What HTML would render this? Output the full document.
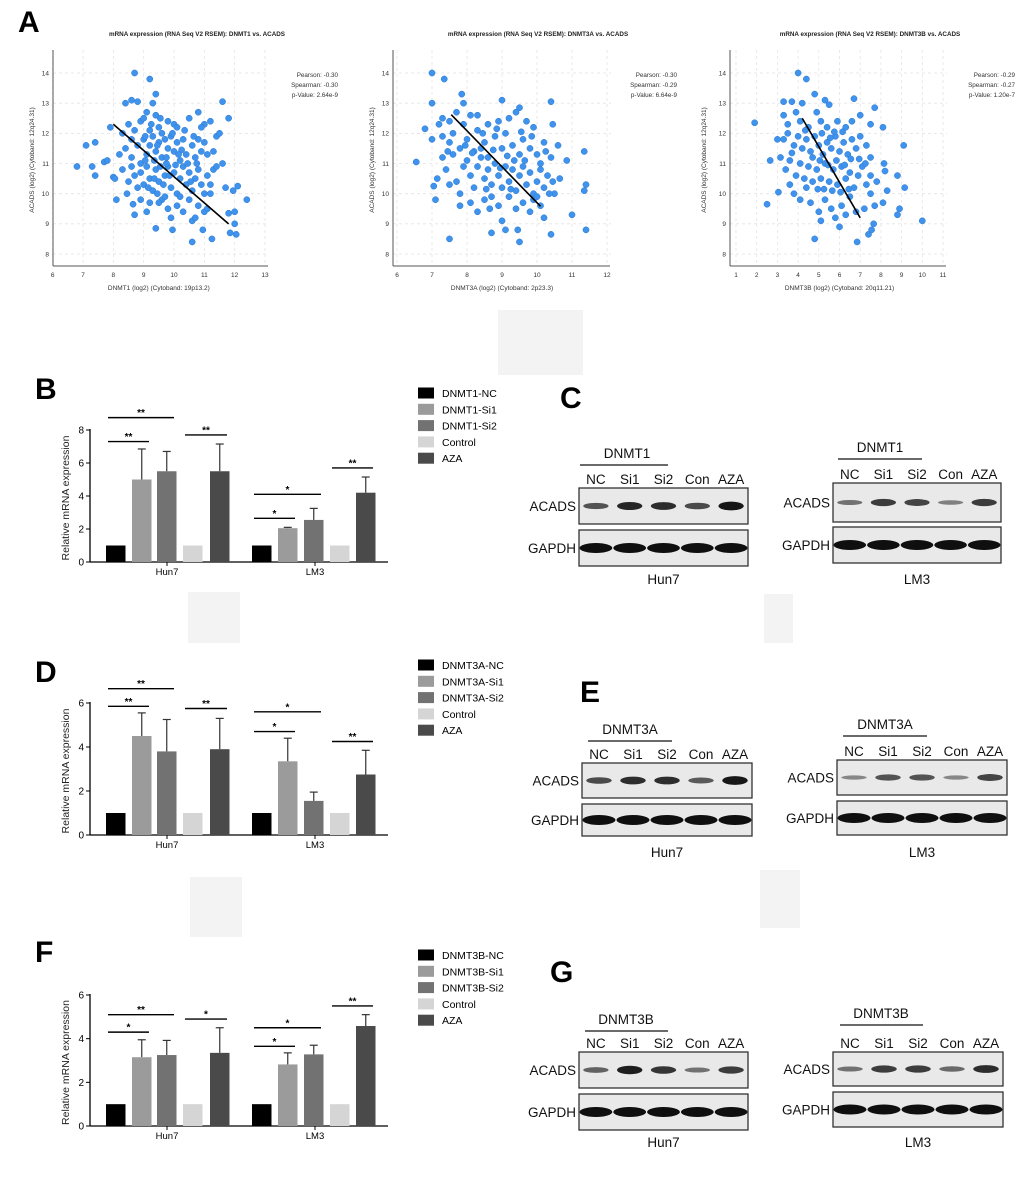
<!DOCTYPE html>
<html><head><meta charset="utf-8"><style>
body{margin:0;background:#fff}
svg{display:block;font-family:"Liberation Sans",sans-serif}
</style></head><body>
<svg id="fig" width="1020" height="1198" viewBox="0 0 1020 1198" xmlns="http://www.w3.org/2000/svg">
<rect width="1020" height="1198" fill="#fff"/>
<rect x="498" y="310" width="85" height="65" fill="#f3f3f3"/>
<rect x="188" y="592" width="52" height="51" fill="#f3f3f3"/>
<rect x="764" y="594" width="29" height="49" fill="#f3f3f3"/>
<rect x="190" y="877" width="52" height="60" fill="#f3f3f3"/>
<rect x="760" y="870" width="40" height="58" fill="#f3f3f3"/>
<text x="18" y="32" font-size="30" font-weight="bold">A</text>
<text x="35" y="399" font-size="30" font-weight="bold">B</text>
<text x="560" y="408" font-size="30" font-weight="bold">C</text>
<text x="35" y="682" font-size="30" font-weight="bold">D</text>
<text x="580" y="702" font-size="30" font-weight="bold">E</text>
<text x="35" y="962" font-size="30" font-weight="bold">F</text>
<text x="550" y="982" font-size="30" font-weight="bold">G</text>
</svg>
<script>
// ---------- scatter data ----------
const s1Points = "8.7,14.0 9.2,13.8 9.4,13.3 8.4,13.0 8.6,13.1 8.8,13.05 11.6,13.05 11.8,12.5 6.8,10.9 7.1,11.6 7.3,10.9 7.4,11.7 7.4,10.6 7.7,11.05 7.8,11.1 7.9,12.2 8.0,10.55 8.05,10.5 8.1,9.8 12.4,9.8 12.1,10.25 11.95,10.1 11.8,9.35 11.85,8.7 12.05,8.65 12.0,9.0 12.0,9.4 11.25,8.5 10.6,8.4 9.95,8.8 9.4,8.85 8.7,9.3 8.65,9.65 9.1,9.4 10.95,8.8 11.7,10.2 11.6,11.0 8.3,12.0 8.5,12.3 8.6,11.8 8.9,12.4 9.0,12.5 9.1,12.7 9.2,12.1 9.3,13.0 9.4,12.6 9.5,12.2 9.6,12.0 9.8,12.4 10.0,12.3 10.1,12.2 10.5,12.5 10.8,12.7 11.0,12.3 11.2,12.4 10.9,12.2 8.4,11.5 8.6,11.2 8.8,11.6 8.9,11.0 9.0,11.8 9.1,11.3 9.2,11.6 9.3,11.9 9.4,11.4 9.5,11.7 9.6,11.2 9.7,11.8 9.8,11.5 9.9,11.9 10.0,11.4 10.1,11.7 10.2,11.1 10.3,11.8 10.4,11.3 10.6,11.6 10.7,11.2 10.8,11.8 10.9,11.4 11.0,11.7 11.1,11.3 11.3,11.4 11.4,11.9 11.5,12.0 8.3,10.8 8.5,10.4 8.6,10.9 8.7,10.6 8.8,10.2 8.9,10.7 9.0,10.3 9.1,10.9 9.2,10.5 9.3,10.1 9.4,10.8 9.5,10.4 9.6,9.8 9.7,10.6 9.8,10.9 9.9,10.2 10.0,10.7 10.1,10.0 10.2,10.5 10.3,10.9 10.4,10.3 10.5,10.7 10.6,10.1 10.7,10.5 10.8,10.8 10.9,10.3 11.0,10.0 11.1,10.6 11.2,10.3 11.3,10.8 11.4,10.9 8.9,9.8 9.2,9.7 9.5,9.7 9.7,9.9 9.8,9.5 10.1,9.6 10.3,9.4 10.5,9.8 10.6,9.1 10.7,9.2 10.8,9.6 11.0,9.4 11.1,9.5 11.2,10.0 9.9,9.2 10.2,9.9 8.2,11.3 8.45,10.0 8.7,12.1 9.05,11.9 9.35,11.1 9.55,10.9 9.75,11.2 10.05,10.95 10.25,11.45 10.45,11.0 10.55,10.4 10.75,11.0 9.85,10.6 9.65,10.3 9.45,10.0 9.15,10.2 9.25,12.3 9.55,12.5 9.95,12.0 10.35,12.1 9.45,11.6 9.75,11.0 10.15,11.3 10.65,11.9 9.35,10.5 9.05,11.1";
const s2Points = "7.0,14.0 7.35,13.8 7.0,13.0 6.55,11.05 6.8,12.15 7.0,11.8 7.05,10.25 7.1,9.8 7.15,10.5 7.5,8.5 7.8,9.6 8.7,8.7 9.1,8.8 9.45,8.8 9.5,8.4 10.4,8.65 11.4,8.8 11.0,9.3 11.35,10.1 11.4,10.3 11.35,11.4 10.85,11.1 10.4,13.05 10.45,12.3 9.5,12.85 9.0,13.1 7.85,13.3 7.9,13.0 10.2,11.7 10.6,11.6 10.65,10.5 10.5,10.0 7.3,12.5 7.5,12.4 7.7,12.7 7.9,12.3 8.1,12.6 8.3,12.6 8.6,12.3 8.9,12.4 9.2,12.5 9.4,12.7 9.7,12.4 9.9,12.2 7.3,11.9 7.5,11.7 7.6,12.0 7.8,11.5 8.0,11.8 8.2,11.4 8.3,12.1 8.5,11.7 8.6,11.2 8.8,11.9 9.0,11.5 9.1,12.0 9.3,11.6 9.5,11.3 9.6,11.8 9.8,11.5 10.0,11.3 10.1,11.0 7.3,11.2 7.4,10.8 7.6,11.3 7.7,10.4 7.9,10.9 8.0,11.1 8.1,10.6 8.2,10.2 8.3,10.9 8.4,11.2 8.5,10.5 8.6,10.8 8.7,10.3 8.8,11.0 8.9,10.6 9.0,10.2 9.1,10.9 9.2,10.4 9.3,10.8 9.4,10.1 9.5,10.6 9.6,10.9 9.7,10.3 9.8,10.7 9.9,10.0 10.0,10.4 10.1,10.8 10.2,10.2 10.3,10.6 7.5,10.3 7.8,10.0 8.1,9.7 8.3,9.4 8.5,9.8 8.7,9.9 8.9,9.6 9.0,9.1 9.2,9.9 9.4,9.5 9.6,9.7 9.8,9.4 9.9,9.8 10.1,9.6 10.2,9.2 10.0,9.9 8.4,11.5 8.75,11.45 9.15,11.25 8.55,10.15 8.95,10.85 9.35,11.1 9.65,11.1 8.15,11.35 7.95,11.6 8.45,12.0 8.85,12.15 9.55,12.05 9.85,11.9 10.25,11.4 10.4,11.2 10.45,10.4 10.35,10.0 7.2,12.3 7.45,11.4 9.25,10.15 8.65,9.5";
const s3Points = "4.0,14.0 4.4,13.8 4.8,13.3 3.3,13.05 3.7,13.05 4.2,13.0 5.3,13.1 5.5,12.95 6.7,13.15 7.7,12.85 1.9,12.35 2.5,9.65 2.65,11.1 3.05,10.05 3.15,11.2 4.8,8.5 6.85,8.4 7.4,8.65 7.55,8.8 7.65,9.0 8.8,9.3 8.9,9.5 10.0,9.1 9.15,10.2 9.1,11.6 8.8,10.6 8.15,11.0 8.2,10.75 8.1,9.7 8.3,10.1 8.1,12.2 3.3,12.6 3.5,12.3 3.9,12.7 4.1,12.4 4.5,12.2 4.9,12.7 5.1,12.4 5.4,12.2 5.9,12.4 6.3,12.2 6.6,12.4 7.0,12.6 7.5,12.3 3.0,11.8 3.3,11.8 3.5,12.0 3.8,11.6 4.0,11.9 4.2,11.5 4.4,11.8 4.6,11.4 4.8,11.9 5.0,11.6 5.2,11.3 5.4,11.7 5.6,11.5 5.8,11.9 6.0,11.4 6.2,11.7 6.4,11.3 6.6,11.8 6.8,11.5 7.0,11.9 7.3,11.6 7.5,11.2 3.4,10.8 3.6,11.1 3.9,10.6 4.1,11.0 4.3,10.5 4.5,10.9 4.7,10.4 4.9,10.8 5.1,10.5 5.3,11.0 5.5,10.4 5.7,10.8 5.9,10.3 6.1,10.9 6.3,10.5 6.5,10.7 6.7,10.2 6.9,10.6 7.1,10.9 7.3,10.3 7.5,10.6 7.8,10.4 3.8,10.0 4.1,9.8 4.4,10.2 4.6,9.7 5.0,9.4 5.1,9.1 5.3,9.8 5.6,9.5 5.8,9.2 6.0,8.9 6.1,9.6 6.3,9.3 6.5,9.9 6.8,9.4 7.2,9.5 7.5,10.0 7.7,9.6 4.7,11.2 5.05,11.1 5.45,10.95 5.85,11.1 6.25,10.95 6.55,11.15 5.25,10.15 5.65,10.1 6.05,10.05 6.45,10.15 5.15,12.0 5.75,12.05 6.15,12.05 4.35,12.1 6.95,11.15 7.25,11.0 3.7,11.35 3.6,10.3 4.95,10.15 5.55,11.85";
const s1Line = [8.0,12.3,11.8,9.0];
const s2Line = [7.55,12.62,10.1,9.58];
const s3Line = [4.2,12.5,7.0,9.2];
const s1Stats = ["Pearson: -0.30","Spearman: -0.30","p-Value: 2.64e-9"];
const s2Stats = ["Pearson: -0.30","Spearman: -0.29","p-Value: 6.64e-9"];
const s3Stats = ["Pearson: -0.29","Spearman: -0.27","p-Value: 1.20e-7"];
const s1XTicks = [6,7,8,9,10,11,12,13];
const s2XTicks = [6,7,8,9,10,11,12];
const s3XTicks = [1,2,3,4,5,6,7,8,9,10,11];
const sYTicks = [8,9,10,11,12,13,14];

// ---------- bar data ----------
const barCats = ["Hun7","LM3"];
const bLegend = ["DNMT1-NC","DNMT1-Si1","DNMT1-Si2","Control","AZA"];
const bHun7 = [1,5.0,5.5,1,5.5];
const bLM3 = [1,2.05,2.55,1,4.2];
const bHun7Top = [0,6.85,6.7,0,7.15];
const bLM3Top = [0,2.1,3.25,0,5.15];
const dLegend = ["DNMT3A-NC","DNMT3A-Si1","DNMT3A-Si2","Control","AZA"];
const dHun7 = [1,4.5,3.8,1,3.9];
const dLM3 = [1,3.35,1.55,1,2.75];
const dHun7Top = [0,5.55,5.25,0,5.3];
const dLM3Top = [0,4.4,1.95,0,3.85];
const fLegend = ["DNMT3B-NC","DNMT3B-Si1","DNMT3B-Si2","Control","AZA"];
const fHun7 = [1,3.15,3.25,1,3.35];
const fLM3 = [1,2.82,3.28,1,4.58];
const fHun7Top = [0,3.95,3.92,0,4.5];
const fLM3Top = [0,3.35,3.7,0,5.1];
const barYTicksB = [0,2,4,6,8];
const barYTicks6 = [0,2,4,6];
const bSig = [[0,0,1,7.3,"**"],[0,0,2,8.75,"**"],[0,3,4,7.7,"**"],[1,0,1,2.65,"*"],[1,0,2,4.1,"*"],[1,3,4,5.7,"**"]];
const dSig = [[0,0,1,5.85,"**"],[0,0,2,6.65,"**"],[0,3,4,5.75,"**"],[1,0,1,4.7,"*"],[1,0,2,5.6,"*"],[1,3,4,4.25,"**"]];
const fSig = [[0,0,1,4.3,"*"],[0,0,2,5.1,"**"],[0,3,4,4.9,"*"],[1,0,1,3.65,"*"],[1,0,2,4.5,"*"],[1,3,4,5.5,"**"]];

// ---------- blot data (band intensity 0..1) ----------
const lanes = ["NC","Si1","Si2","Con","AZA"];
const cHunAcads = [0.55,0.85,0.8,0.6,0.95];
const cLmAcads = [0.35,0.7,0.65,0.25,0.7];
const eHunAcads = [0.6,0.8,0.8,0.5,0.95];
const eLmAcads = [0.2,0.55,0.55,0.2,0.65];
const gHunAcads = [0.45,0.9,0.75,0.35,0.7];
const gLmAcads = [0.35,0.7,0.7,0.4,0.8];
const gapdh = [1,1,1,1,1];

const svg = document.getElementById('fig');
const NS = 'http://www.w3.org/2000/svg';
function mk(tag, attrs, parent){const e=document.createElementNS(NS,tag);for(const k in attrs)e.setAttribute(k,attrs[k]);(parent||svg).appendChild(e);return e;}
function txt(x,y,s,size,attrs,parent){const t=mk('text',Object.assign({x:x,y:y,'font-size':size},attrs||{}),parent);t.textContent=s;return t;}
function parsePts(s){return s.trim().split(/\s+/).map(p=>p.split(',').map(Number));}

function scatter(o){
  const g=mk('g',{});
  
  
  const xs=v=>o.x0+(v-o.xmin)*(o.x1-o.x0)/(o.xmax-o.xmin);
  const ys=v=>254-(v-8)*(254-73)/6;
  o.xt.forEach(v=>mk('line',{x1:xs(v),x2:xs(v),y1:50,y2:264,stroke:'#e4e4e4','stroke-dasharray':'3,3','stroke-width':0.8},g));
  sYTicks.forEach(v=>mk('line',{x1:o.ax,x2:o.x1+4,y1:ys(v),y2:ys(v),stroke:'#e4e4e4','stroke-dasharray':'3,3','stroke-width':0.8},g));
  mk('line',{x1:o.ax,x2:o.ax,y1:50,y2:266,stroke:'#555','stroke-width':1},g);
  mk('line',{x1:o.ax,x2:o.x1+3,y1:266,y2:266,stroke:'#555','stroke-width':1},g);
  o.xt.forEach(v=>{const t=txt(xs(v),277,String(v),6.5,{'text-anchor':'middle',fill:'#333'},g);
    });
  sYTicks.forEach(v=>{const t=txt(o.ax-4,ys(v)+2.3,String(v),6.5,{'text-anchor':'end',fill:'#333'},g);
    });
  const tt=txt(o.tc,36,o.title,6.3,{'text-anchor':'middle','font-weight':'bold',fill:'#222'},g);
  
  const xl=txt((o.x0+o.x1)/2,290,o.xlab,6.5,{'text-anchor':'middle',fill:'#333'},g);
  
  const yl=txt(0,0,'ACADS (log2) (Cytoband: 12q24.31)',6.5,{'text-anchor':'middle',fill:'#333',transform:`translate(${o.ylx},160) rotate(-90)`},g);
  
  o.stats.forEach((s,i)=>{const t=txt(o.sx,77+i*10,s,6.3,{'text-anchor':'end',fill:'#333'},g);
    });
  parsePts(o.pts).forEach(p=>{const c=mk('circle',{cx:xs(p[0]),cy:ys(p[1]),r:3.1,fill:'#3f93ec',stroke:'#2c78cf','stroke-width':0.5},g);
    });
  const l=mk('line',{x1:xs(o.line[0]),y1:ys(o.line[1]),x2:xs(o.line[2]),y2:ys(o.line[3]),stroke:'#000','stroke-width':1.6},g);
  
}
scatter({name:'scatter-dnmt1',x0:52.7,x1:265,xmin:6,xmax:13,ax:53,xt:s1XTicks,tc:197,title:'mRNA expression (RNA Seq V2 RSEM): DNMT1 vs. ACADS',xlab:'DNMT1 (log2) (Cytoband: 19p13.2)',ylx:34,stats:s1Stats,sx:338,pts:s1Points,line:s1Line});
scatter({name:'scatter-dnmt3a',x0:397,x1:607,xmin:6,xmax:12,ax:393,xt:s2XTicks,tc:538,title:'mRNA expression (RNA Seq V2 RSEM): DNMT3A vs. ACADS',xlab:'DNMT3A (log2) (Cytoband: 2p23.3)',ylx:374,stats:s2Stats,sx:677,pts:s2Points,line:s2Line});
scatter({name:'scatter-dnmt3b',x0:736,x1:943,xmin:1,xmax:11,ax:730,xt:s3XTicks,tc:870,title:'mRNA expression (RNA Seq V2 RSEM): DNMT3B vs. ACADS',xlab:'DNMT3B (log2) (Cytoband: 20q11.21)',ylx:706,stats:s3Stats,sx:1015,pts:s3Points,line:s3Line});

// ---------- bar charts ----------
const barFills=['#000','#9b9b9b','#727272','#d5d5d5','#4a4a4a'];
const barLeft=[[106,132,157,183,210],[252,278,304,330,356]];
function barChart(o){
  const g=mk('g',{});
  
  
  const ys=v=>o.y0-v*(o.y0-o.yTop)/o.ymax;
  mk('line',{x1:90,x2:90,y1:ys(o.ymax)-1,y2:o.y0,stroke:'#000','stroke-width':1.3},g);
  mk('line',{x1:90,x2:388,y1:o.y0,y2:o.y0,stroke:'#000','stroke-width':1.3},g);
  o.ticks.forEach(v=>{mk('line',{x1:86,x2:90,y1:ys(v),y2:ys(v),stroke:'#000','stroke-width':1},g);
    const t=txt(84,ys(v)+3.5,String(v),10,{'text-anchor':'end'},g);
    });
  [167,315].forEach((cx,i)=>{mk('line',{x1:cx,x2:cx,y1:o.y0,y2:o.y0+4,stroke:'#000'},g);
    const t=txt(cx,o.y0+13,barCats[i],9.5,{'text-anchor':'middle'},g);
    });
  const yl=txt(0,0,'Relative mRNA  expression',10.5,{'text-anchor':'middle',transform:`translate(69,${ys(o.ymax/2)+2}) rotate(-90)`,fill:'#222'},g);
  
  [o.hun,o.lm].forEach((vals,gi)=>{
    const tops=gi?o.lmTop:o.hunTop;
    vals.forEach((v,i)=>{
      const x=barLeft[gi][i],w=19.5;
      if(tops[i]>v){const cx=x+w/2;
        mk('line',{x1:cx,x2:cx,y1:ys(tops[i]),y2:ys(v),stroke:'#333','stroke-width':1.2},g);
        mk('line',{x1:cx-4,x2:cx+4,y1:ys(tops[i]),y2:ys(tops[i]),stroke:'#333','stroke-width':1.2},g);}
      const r=mk('rect',{x:x,y:ys(v),width:w,height:o.y0-ys(v),fill:barFills[i]},g);
      
      
    });
  });
  o.sig.forEach(s=>{
    const x1=barLeft[s[0]][s[1]]+2,x2=barLeft[s[0]][s[2]]+17,y=ys(s[3]);
    const l=mk('line',{x1:x1,x2:x2,y1:y,y2:y,stroke:'#000','stroke-width':1.4},g);
    
    const t=txt((x1+x2)/2,y-1.5,s[4],10,{'text-anchor':'middle','font-weight':'bold'},g);
    
  });
  o.legend.forEach((s,i)=>{const y=o.legY+i*16.3;
    const r=mk('rect',{x:418,y:y-5.5,width:16,height:11,fill:barFills[i]},g);
    
    const t=txt(442,y+4,s,10.5,{},g);
    });
}
barChart({name:'bar-chart-b',y0:562,yTop:430,ymax:8,ticks:barYTicksB,hun:bHun7,lm:bLM3,hunTop:bHun7Top,lmTop:bLM3Top,sig:bSig,legend:bLegend,legY:393});
barChart({name:'bar-chart-d',y0:835,yTop:703,ymax:6,ticks:barYTicks6,hun:dHun7,lm:dLM3,hunTop:dHun7Top,lmTop:dLM3Top,sig:dSig,legend:dLegend,legY:665});
barChart({name:'bar-chart-f',y0:1126,yTop:995,ymax:6,ticks:barYTicks6,hun:fHun7,lm:fLM3,hunTop:fHun7Top,lmTop:fLM3Top,sig:fSig,legend:fLegend,legY:955});

// ---------- western blots ----------
function blot(o){
  const g=mk('g',{});
  
  
  const w=o.x1-o.x0, lw=w/5;
  const gt=txt(o.gx,o.gy,o.gene,13.5,{'text-anchor':'middle',fill:'#111'},g);
  
  mk('line',{x1:o.ux0,x2:o.ux1,y1:o.gy+7,y2:o.gy+7,stroke:'#111','stroke-width':1.3},g);
  lanes.forEach((s,i)=>{const t=txt(o.x0+lw*(i+0.5),o.a0-4,s,13.5,{'text-anchor':'middle',fill:'#111'},g);
    });
  [[o.a0,o.a1,'ACADS',o.acads],[o.g0,o.g1,'GAPDH',gapdh]].forEach((b,k)=>{
    const r=mk('rect',{x:o.x0,y:b[0],width:w,height:b[1]-b[0],fill:'#e9e9e9',stroke:'#333','stroke-width':1.3},g);
    
    const t=txt(o.x0-3,(b[0]+b[1])/2+5,b[2],13.5,{'text-anchor':'end',fill:'#111'},g);
    
    const cy=(b[0]+b[1])/2;
    b[3].forEach((v,i)=>{
      const h=k?10:3+v*6, bw=k?lw-1:lw*0.75;
      const shade=Math.round(15+(1-v)*150);
      const e=mk('rect',{x:o.x0+lw*(i+0.5)-bw/2,y:cy-h/2,width:bw,height:h,rx:bw/2,ry:h/2,fill:`rgb(${shade},${shade},${shade})`},g);
      
    });
  });
  const ct=txt((o.x0+o.x1)/2,o.cy,o.cell,13.5,{'text-anchor':'middle',fill:'#111'},g);
  
}
blot({name:'blot-c-hun7',x0:579,x1:748,a0:488,a1:524,g0:530,g1:566,gene:'DNMT1',gx:627,gy:458,ux0:580,ux1:668,acads:cHunAcads,cell:'Hun7',cy:584});
blot({name:'blot-c-lm3',x0:833,x1:1001,a0:483,a1:522,g0:527,g1:563,gene:'DNMT1',gx:880,gy:452,ux0:838,ux1:922,acads:cLmAcads,cell:'LM3',cy:584});
blot({name:'blot-e-hun7',x0:582,x1:752,a0:763,a1:798,g0:804,g1:836,gene:'DNMT3A',gx:630,gy:734,ux0:588,ux1:672,acads:eHunAcads,cell:'Hun7',cy:857});
blot({name:'blot-e-lm3',x0:837,x1:1007,a0:760,a1:795,g0:801,g1:835,gene:'DNMT3A',gx:885,gy:729,ux0:843,ux1:927,acads:eLmAcads,cell:'LM3',cy:857});
blot({name:'blot-g-hun7',x0:579,x1:748,a0:1052,a1:1088,g0:1094,g1:1130,gene:'DNMT3B',gx:626,gy:1024,ux0:585,ux1:668,acads:gHunAcads,cell:'Hun7',cy:1147});
blot({name:'blot-g-lm3',x0:833,x1:1003,a0:1052,a1:1086,g0:1092,g1:1127,gene:'DNMT3B',gx:881,gy:1018,ux0:840,ux1:923,acads:gLmAcads,cell:'LM3',cy:1147});
</script>
</body></html>
